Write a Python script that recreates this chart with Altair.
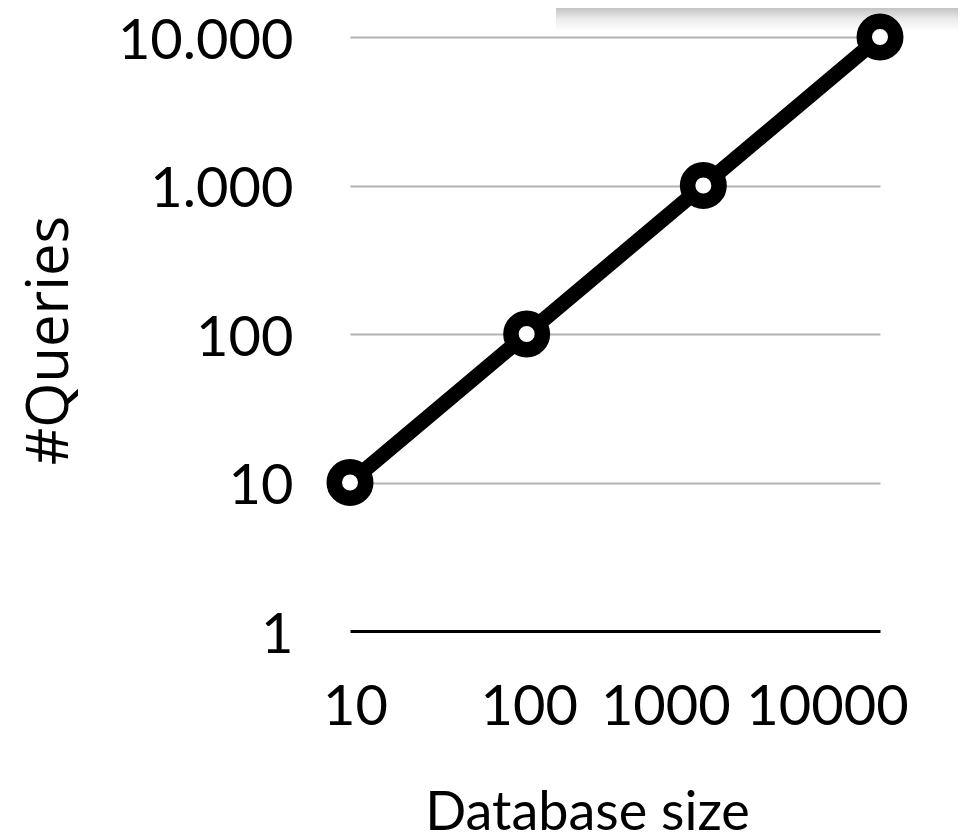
import altair as alt
import pandas as pd

db_size = ["10", "100", "1000", "10000"]
queries = [10, 100, 1000, 10000]
y_ticks = [1, 10, 100, 1000, 10000]
x_label_shift = [5, 2, -38, -53]

df = pd.DataFrame({"size": db_size, "queries": queries})

LABEL_FONT = "Lato"

x_enc = alt.X(
    "size:O",
    sort=db_size,
    scale=alt.Scale(type="point", padding=0),
    axis=alt.Axis(
        title="Database size",
        labelAngle=0,
        ticks=False,
        tickSize=0,
        domain=False,
        grid=False,
        labelFont=LABEL_FONT,
        labelFontSize=56,
        labelColor="black",
        labelPadding=49,
        labelOffset={
            "condition": [
                {"test": f"datum.label == '{db_size[i]}'", "value": x_label_shift[i]}
                for i in range(len(db_size))
            ],
            "value": 0,
        },
        titleFont=LABEL_FONT,
        titleFontSize=54,
        titleFontWeight="normal",
        titleColor="black",
        titleX=237,
        titleY=198,
        titleAlign="center",
        titleBaseline="alphabetic",
    ),
)

y_enc = alt.Y(
    "queries:Q",
    scale=alt.Scale(type="log", domain=[1, 10000], nice=False),
    axis=alt.Axis(
        title="#Queries",
        values=y_ticks,
        ticks=False,
        tickSize=0,
        domain=False,
        grid=True,
        gridColor={"condition": {"test": "datum.value === 1", "value": "black"}, "value": "#b3b3b3"},
        gridWidth={"condition": {"test": "datum.value === 1", "value": 3}, "value": 2},
        labelExpr="replace(format(datum.value, ',d'), ',', '.')",
        labelFont=LABEL_FONT,
        labelFontSize=56,
        labelColor="black",
        labelPadding=57,
        labelOffset=4,
        labelAlign="right",
        labelBaseline="middle",
        titleFont="Open Sans",
        titleFontSize=58,
        titleFontWeight="normal",
        titleColor="black",
        titleAngle=270,
        titleX=-283,
        titleY=303,
        titleAlign="center",
        titleBaseline="alphabetic",
    ),
)

base = alt.Chart(df)

shadow = alt.Chart(pd.DataFrame({"a": [0]})).mark_rect(
    fill=alt.LinearGradient(
        gradient="linear",
        x1=0, x2=0, y1=0, y2=1,
        stops=[
            alt.GradientStop(color="#c4c4c4", offset=0),
            alt.GradientStop(color="#ececec", offset=0.5),
            alt.GradientStop(color="#ffffff", offset=1),
        ],
    )
).encode(
    x=alt.value(206), x2=alt.value(620), y=alt.value(-29), y2=alt.value(-6)
)

line = base.mark_line(color="black", strokeWidth=15).encode(x=x_enc, y=y_enc)
points = base.mark_point(
    shape="circle", fill="white", fillOpacity=1, stroke="black",
    strokeWidth=15.5, size=990, opacity=1
).encode(x=x_enc, y=y_enc)

chart = alt.layer(shadow, line, points).properties(
    width=530,
    height=594,
    padding={"left": 342, "top": 29, "right": 78, "bottom": 201},
    autosize=alt.AutoSizeParams(type="none"),
    background="white",
).configure_view(strokeWidth=0)

chart.save("out.html", embed_options={"renderer": "svg", "actions": False})
